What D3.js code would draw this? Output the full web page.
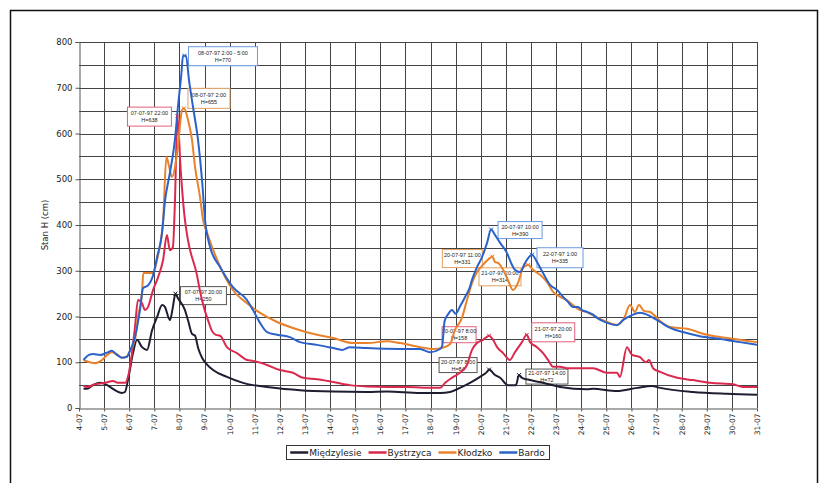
<!DOCTYPE html>
<html>
<head>
<meta charset="utf-8">
<script src="https://cdn.jsdelivr.net/npm/d3@7/dist/d3.min.js"></script>
<style>
  body { margin: 0; background: #fff; }
  text { font-family: "DejaVu Sans", sans-serif; fill: #222; }
</style>
</head>
<body>
<svg id="chart" width="827" height="483"></svg>
<script>
// ---- data (day of July 1997, water level H in cm) ----
var dayTicks = d3.range(4, 32);
var dayLabels = dayTicks.map(function (d) { return d + '-07'; });
var levelTicks = d3.range(0, 801, 100);

var stationNames = ['Międzylesie', 'Bystrzyca', 'Kłodzko', 'Bardo'];

var miedzylesie = [
  [4.18, 42], [4.32, 42], [4.56, 50], [4.84, 55], [5.12, 50], [5.35, 42], [5.71, 33], [5.83, 35], [5.95, 61],
  [6.15, 120], [6.31, 149], [6.51, 133], [6.71, 127], [6.91, 170], [7.11, 199], [7.31, 225],
  [7.42, 221], [7.62, 192], [7.74, 221], [7.84, 250], [7.94, 240], [8.22, 214], [8.35, 190],
  [8.5, 162], [8.62, 158], [8.75, 130], [8.9, 110], [9.1, 95], [9.34, 83], [9.89, 68], [10.53, 55],
  [10.93, 50], [11.49, 46], [12.8, 39], [14.12, 36], [15.47, 35], [16.27, 36], [17.58, 33],
  [18.38, 33], [18.78, 35], [19.17, 44], [19.57, 55], [19.97, 68], [20.25, 79], [20.33, 84],
  [20.57, 72], [20.77, 66], [21.08, 50], [21.4, 50], [21.52, 72], [21.64, 66], [21.96, 61],
  [22.48, 55], [23.16, 46], [24.23, 41], [24.47, 42], [25.43, 37], [26.22, 44], [26.82, 48],
  [27.14, 44], [28.45, 35], [29.81, 31], [31.0, 29]
];

var bystrzyca = [
  [4.18, 48], [4.32, 46], [4.64, 52], [5.04, 55], [5.35, 59], [5.55, 55], [5.83, 55], [5.95, 68], [6.11, 120],
  [6.23, 177], [6.35, 236], [6.51, 229], [6.63, 214], [6.75, 221], [6.95, 258], [7.15, 286],
  [7.35, 324], [7.5, 378], [7.62, 345], [7.74, 352], [7.82, 450], [7.92, 638], [8.05, 520],
  [8.2, 420], [8.34, 367], [8.7, 290], [8.82, 255], [9.0, 215], [9.15, 190], [9.3, 168],
  [9.45, 160], [9.62, 158], [9.89, 133], [10.29, 120], [10.69, 105], [10.93, 103], [11.49, 94],
  [12.0, 83], [12.52, 77], [12.92, 66], [13.48, 63], [14.12, 57], [14.79, 50], [15.47, 47],
  [16.27, 46], [17.06, 46], [18.1, 44], [18.38, 44], [18.58, 55], [18.85, 66], [19.17, 77],
  [19.45, 94], [19.65, 127], [19.85, 142], [20.09, 149], [20.33, 158], [20.49, 149], [20.65, 133],
  [20.89, 120], [21.16, 105], [21.36, 122], [21.64, 144], [21.83, 160], [21.96, 144], [22.24, 133],
  [22.48, 120], [22.68, 105], [22.88, 90], [23.16, 90], [23.43, 87], [23.83, 87], [24.47, 87],
  [25.03, 77], [25.43, 77], [25.54, 68], [25.82, 133], [26.02, 116], [26.34, 111], [26.58, 100],
  [26.7, 105], [26.86, 87], [27.14, 79], [27.82, 66], [28.45, 61], [29.13, 55], [30.05, 52],
  [30.44, 46], [31.0, 46]
];

var klodzko = [
  [4.18, 105], [4.36, 101], [4.64, 98], [4.92, 105], [5.12, 116], [5.31, 122], [5.51, 118],
  [5.71, 110], [5.91, 113], [6.03, 125], [6.23, 150], [6.35, 199], [6.51, 251], [6.56, 295],
  [6.95, 295], [7.11, 324], [7.35, 411], [7.48, 549], [7.58, 530], [7.7, 505], [7.94, 571],
  [8.1, 651], [8.18, 655], [8.34, 630], [8.5, 586], [8.62, 527], [8.82, 461], [8.94, 411],
  [9.1, 383], [9.5, 324], [10.13, 258], [10.69, 229], [11.21, 208], [11.89, 188], [12.8, 170],
  [13.48, 160], [14.12, 153], [14.91, 142], [15.47, 142], [16.27, 146], [16.78, 142], [17.58, 133],
  [18.1, 129], [18.5, 132], [18.78, 140], [18.97, 170], [19.25, 197], [19.45, 236], [19.65, 273],
  [19.85, 297], [20.09, 313], [20.37, 328], [20.46, 331], [20.57, 319], [20.69, 317], [20.89, 302],
  [21.08, 280], [21.28, 258], [21.48, 273], [21.68, 306], [21.88, 313], [22.08, 302], [22.36, 291],
  [22.64, 275], [22.88, 254], [23.16, 243], [23.43, 236], [23.67, 225], [23.95, 214], [24.2, 210],
  [24.5, 202], [25.03, 188], [25.43, 182], [25.7, 195], [25.94, 225], [26.14, 210], [26.3, 225],
  [26.5, 212], [26.74, 210], [27.14, 190], [27.54, 177], [28.21, 173], [29.01, 160], [29.81, 153],
  [31.0, 144]
];

var bardo = [
  [4.18, 105], [4.4, 116], [4.56, 118], [4.84, 116], [5.12, 121], [5.31, 125], [5.51, 116],
  [5.71, 110], [5.91, 112], [6.03, 125], [6.23, 155], [6.43, 215], [6.55, 262], [6.75, 268],
  [6.95, 290], [7.11, 330], [7.31, 384], [7.42, 450], [7.62, 514], [7.82, 586], [7.94, 658],
  [8.08, 732], [8.14, 770], [8.26, 770], [8.38, 717], [8.54, 658], [8.74, 586], [8.9, 498],
  [9.02, 411], [9.22, 352], [9.62, 308], [10.13, 264], [10.69, 236], [10.93, 214], [11.21, 186],
  [11.49, 166], [11.89, 160], [12.4, 155], [12.8, 144], [13.48, 138], [14.12, 131], [14.47, 127],
  [14.79, 133], [15.47, 131], [16.78, 129], [17.58, 129], [17.98, 122], [18.38, 129], [18.46, 135],
  [18.56, 190], [18.7, 205], [18.85, 214], [19.0, 206], [19.17, 222], [19.35, 240], [19.55, 262],
  [19.65, 280], [19.85, 308], [20.05, 330], [20.25, 361], [20.41, 390], [20.57, 378], [20.77, 361],
  [21.04, 339], [21.24, 313], [21.36, 302], [21.56, 297], [21.76, 317], [22.04, 335], [22.24, 319],
  [22.48, 295], [22.76, 269], [23.04, 258], [23.28, 243], [23.47, 232], [23.67, 221], [23.87, 221],
  [24.03, 214], [24.23, 210], [24.47, 204], [24.63, 197], [25.03, 186], [25.43, 181], [25.66, 192],
  [26.02, 203], [26.34, 208], [26.74, 201], [27.14, 188], [27.54, 175], [28.05, 166], [28.73, 157],
  [29.53, 151], [30.32, 144], [31.0, 138]
];

// peak annotations: station index, day, H, two text lines
var notes = [
  [3, 8.2, 770, '08-07-97 2:00 - 5:00', 'H=770'],
  [2, 8.18, 655, '08-07-97 2:00', 'H=655'],
  [1, 7.92, 638, '07-07-97 22:00', 'H=638'],
  [0, 7.84, 250, '07-07-97 20:00', 'H=250'],
  [3, 20.41, 390, '20-07-97 10:00', 'H=390'],
  [2, 20.46, 331, '20-07-97 11:00', 'H=331'],
  [3, 22.04, 335, '22-07-97 1:00', 'H=335'],
  [2, 21.88, 313, '21-07-97 20:00', 'H=314'],
  [1, 20.33, 158, '20-07-97 8:00', 'H=158'],
  [1, 21.83, 160, '21-07-97 20:00', 'H=160'],
  [0, 20.33, 84, '20-07-97 8:00', 'H=84'],
  [0, 21.52, 72, '21-07-97 14:00', 'H=72']
];

// ---- layout ----
var series = [miedzylesie, bystrzyca, klodzko, bardo];
var colors = ['#1e1e32', '#d92a4e', '#e8822c', '#2b62c9'];
var noteBoxColors = ['#555555', '#e0607e', '#e0a060', '#6a9ae0'];
// box offset from the peak point: dx, dy, width, height
var noteBoxes = [
  [4, -9, 69, 19], [4, -20, 42, 20], [-50, -9, 44, 19], [5, -7, 46, 18],
  [7, -8, 44, 17], [-50, -7, 40, 18], [5, -7, 46, 20], [-49, 3, 42, 18],
  [-47, -9, 34, 16], [5, -12, 43, 19], [-50, -12, 38, 15], [7, -6, 42, 15]
];

var svg = d3.select('#chart');
var plotL = 79, plotR = 757, plotT = 42, plotB = 408;

var x = d3.scaleLinear().domain([4, 31]).range([plotL, plotR]);
var y = d3.scaleLinear().domain([0, 800]).range([plotB, plotT]);

// frame
svg.append('rect')
  .attr('x', 10.5).attr('y', 10.5).attr('width', 807).attr('height', 490)
  .attr('fill', 'none').attr('stroke', '#111').attr('stroke-width', 1.5);

// grid
var grid = svg.append('g').attr('stroke', '#444').attr('stroke-width', 1);
grid.selectAll('line.h').data(d3.range(50, 801, 50)).enter().append('line')
  .attr('x1', plotL).attr('x2', plotR)
  .attr('y1', function (d) { return Math.round(y(d)) + 0.5; })
  .attr('y2', function (d) { return Math.round(y(d)) + 0.5; });
grid.selectAll('line.v').data(dayTicks.slice(1)).enter().append('line')
  .attr('y1', plotT).attr('y2', plotB)
  .attr('x1', function (d) { return Math.round(x(d)) + 0.5; })
  .attr('x2', function (d) { return Math.round(x(d)) + 0.5; });

// axes
var yAxis = svg.append('g')
  .attr('transform', 'translate(' + (plotL + 0.5) + ',0)')
  .call(d3.axisLeft(y).tickValues(levelTicks).tickSize(4).tickPadding(3));
yAxis.select('.domain').attr('stroke', '#555');
yAxis.selectAll('.tick line').attr('stroke', '#555');
yAxis.selectAll('text').style('font-size', '8.5px').attr('fill', '#222');

var xAxis = svg.append('g')
  .attr('transform', 'translate(0,' + (plotB + 0.5) + ')')
  .call(d3.axisBottom(x).tickValues(dayTicks)
    .tickFormat(function (d, i) { return dayLabels[i]; })
    .tickSize(3).tickSizeOuter(0));
xAxis.select('.domain').attr('stroke', '#555');
xAxis.selectAll('.tick line').attr('stroke', '#555');
xAxis.selectAll('text')
  .style('font-size', '7.5px')
  .attr('text-anchor', 'end')
  .attr('transform', 'rotate(-90)')
  .attr('x', -5).attr('y', 0).attr('dy', '0.32em');

// y title
svg.append('text')
  .attr('transform', 'translate(48,' + ((plotT + plotB) / 2) + ') rotate(-90)')
  .attr('text-anchor', 'middle')
  .style('font-size', '8.5px')
  .text('Stan H (cm)');

// annotation boxes (under the lines)
var noteG = svg.append('g');
notes.forEach(function (n, i) {
  var px = x(n[1]), py = y(n[2]), b = noteBoxes[i];
  var g = noteG.append('g').attr('transform', 'translate(' + (px + b[0]) + ',' + (py + b[1]) + ')');
  g.append('rect').attr('width', b[2]).attr('height', b[3])
    .attr('fill', '#fff').attr('stroke', noteBoxColors[n[0]]).attr('stroke-width', 1);
  g.append('text').attr('x', b[2] / 2).attr('y', b[3] / 2 - 1.5)
    .attr('text-anchor', 'middle')
    .style('font-family', '"Liberation Sans", sans-serif').style('font-size', '5.5px')
    .text(n[3]);
  g.append('text').attr('x', b[2] / 2).attr('y', b[3] / 2 + 5.5)
    .attr('text-anchor', 'middle')
    .style('font-family', '"Liberation Sans", sans-serif').style('font-size', '5.5px')
    .text(n[4]);
});

// lines
var line = d3.line()
  .x(function (d) { return x(d[0]); })
  .y(function (d) { return y(d[1]); })
  .curve(d3.curveMonotoneX);

svg.append('g').selectAll('path').data(series).enter().append('path')
  .attr('d', line)
  .attr('fill', 'none')
  .attr('stroke', function (d, i) { return colors[i]; })
  .attr('stroke-width', 2)
  .attr('stroke-linejoin', 'round');

// peak markers
svg.append('g').selectAll('path').data(notes).enter().append('path')
  .attr('d', function (n) {
    var px = x(n[1]), py = y(n[2]);
    return 'M' + (px - 2) + ',' + (py - 2) + 'L' + (px + 2) + ',' + (py + 2) +
      'M' + (px + 2) + ',' + (py - 2) + 'L' + (px - 2) + ',' + (py + 2);
  })
  .attr('stroke', function (n) { return colors[n[0]]; })
  .attr('stroke-width', 1);

// legend
var legend = svg.append('g');
var lx = 0;
stationNames.forEach(function (name, i) {
  var g = legend.append('g').attr('transform', 'translate(' + lx + ',0)');
  g.append('line').attr('x1', 0).attr('x2', 18).attr('y1', 0).attr('y2', 0)
    .attr('stroke', colors[i]).attr('stroke-width', 2.5);
  var t = g.append('text').attr('x', 19).attr('dy', '0.35em')
    .style('font-size', '9px').text(name);
  lx += 19 + t.node().getComputedTextLength() + 7;
});
var legendW = lx - 7 + 8;
var legendX = 417.5 - legendW / 2;
legend.attr('transform', 'translate(' + (legendX + 4) + ',452.5)');
svg.insert('rect', function () { return legend.node(); })
  .attr('x', Math.round(legendX) + 0.5).attr('y', 445.5)
  .attr('width', Math.round(legendW)).attr('height', 14)
  .attr('fill', '#fff').attr('stroke', '#333').attr('stroke-width', 1);
</script>
</body>
</html>
